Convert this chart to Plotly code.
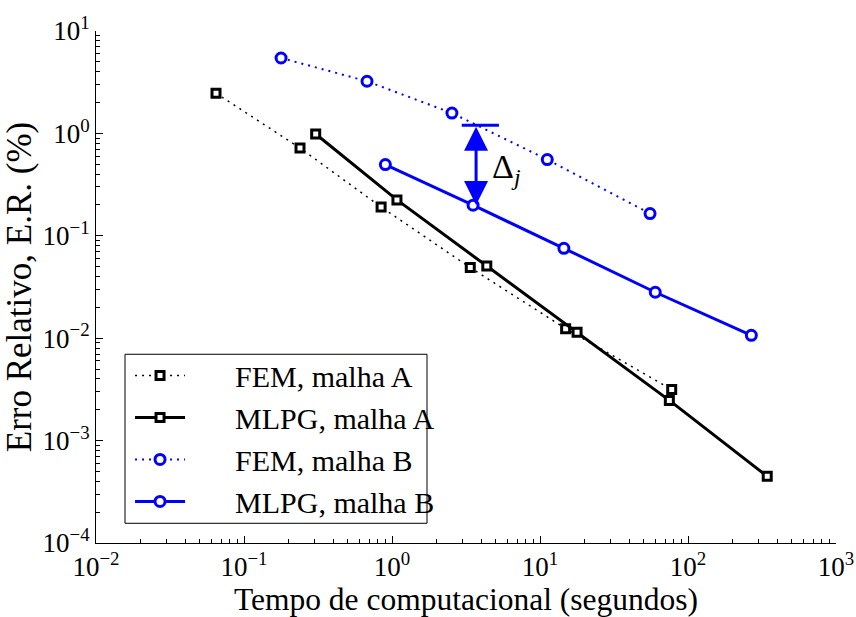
import math
import plotly.graph_objects as go

# Tempo computacional (s) e erro relativo (%) para cada método / malha
fem_a_t = [0.0647, 0.239, 0.844, 3.38, 14.9, 77.6]
fem_a_e = [2.47, 0.72, 0.191, 0.0489, 0.0124, 0.00315]

mlpg_a_t = [0.305, 1.08, 4.37, 17.8, 74.8, 343]
mlpg_a_e = [0.986, 0.224, 0.0507, 0.0114, 0.00247, 0.000448]

fem_b_t = [0.178, 0.678, 2.54, 11.2, 55.4]
fem_b_e = [5.45, 3.23, 1.58, 0.555, 0.165]

mlpg_b_t = [0.902, 3.53, 14.5, 60.1, 268]
mlpg_b_e = [0.496, 0.199, 0.0755, 0.0281, 0.01067]

series_names = ["FEM, malha A", "MLPG, malha A", "FEM, malha B", "MLPG, malha B"]

# Marcas dos eixos (décadas)
x_tick_vals = [0.01, 0.1, 1, 10, 100, 1000]
x_tick_text = ["10<sup>−2</sup>", "10<sup>−1</sup>", "10<sup>0</sup>",
               "10<sup>1</sup>", "10<sup>2</sup>", "10<sup>3</sup>"]
y_tick_vals = [0.0001, 0.001, 0.01, 0.1, 1, 10]
y_tick_text = ["10<sup>−4</sup>", "10<sup>−3</sup>", "10<sup>−2</sup>",
               "10<sup>−1</sup>", "10<sup>0</sup>", "10<sup>1</sup>"]

# Indicador Δj: barra horizontal e seta dupla até o ponto MLPG
delta_bar_t = [2.96, 5.28]
delta_bar_e = 1.2
delta_arrow_t = 3.7
delta_arrow_bottom = 0.2
delta_label_t = 4.6
delta_label_e = 0.45

FONT = "Liberation Serif"
BLUE = "#0000ff"
dots = "2px,5px"
pad = "\u00a0" * 6  # espaço entre o símbolo e o texto da legenda

fig = go.Figure()

fig.add_trace(go.Scatter(
    x=fem_a_t, y=fem_a_e, name=pad + series_names[0], mode="lines+markers",
    line=dict(color="black", width=1.5, dash=dots),
    marker=dict(symbol="square", size=8, color="white",
                line=dict(color="black", width=3)),
))
fig.add_trace(go.Scatter(
    x=mlpg_a_t, y=mlpg_a_e, name=pad + series_names[1], mode="lines+markers",
    line=dict(color="black", width=3),
    marker=dict(symbol="square", size=8, color="white",
                line=dict(color="black", width=3)),
))
fig.add_trace(go.Scatter(
    x=fem_b_t, y=fem_b_e, name=pad + series_names[2], mode="lines+markers",
    line=dict(color=BLUE, width=2, dash=dots),
    marker=dict(symbol="circle", size=10, color="white",
                line=dict(color=BLUE, width=3)),
))
fig.add_trace(go.Scatter(
    x=mlpg_b_t, y=mlpg_b_e, name=pad + series_names[3], mode="lines+markers",
    line=dict(color=BLUE, width=3),
    marker=dict(symbol="circle", size=10, color="white",
                line=dict(color=BLUE, width=3)),
))

# barra de referência do Δj
fig.add_shape(type="line", xref="x", yref="y",
              x0=delta_bar_t[0], x1=delta_bar_t[1],
              y0=delta_bar_e, y1=delta_bar_e,
              line=dict(color=BLUE, width=3))

# seta dupla vertical
fig.add_annotation(
    x=math.log10(delta_arrow_t), y=math.log10(delta_arrow_bottom),
    ax=math.log10(delta_arrow_t), ay=math.log10(delta_bar_e),
    xref="x", yref="y", axref="x", ayref="y",
    text="", showarrow=True, arrowside="end+start",
    arrowhead=2, startarrowhead=2, arrowsize=1.6, startarrowsize=1.6,
    arrowwidth=3, arrowcolor=BLUE,
)
fig.add_annotation(
    x=math.log10(delta_label_t), y=math.log10(delta_label_e),
    xref="x", yref="y", xanchor="left", yanchor="middle",
    text="Δ<sub><i>j</i></sub>", showarrow=False,
    font=dict(family=FONT, size=34, color="black"),
)

# moldura da legenda
fig.add_shape(type="rect", xref="paper", yref="paper",
              x0=0.0392, x1=0.4473, y0=0.0385, y1=0.3686,
              line=dict(color="black", width=1), fillcolor="white",
              layer="below")

axis_common = dict(
    type="log", tickmode="array", automargin=False,
    ticks="inside", ticklen=7, tickwidth=1, tickcolor="black",
    showline=True, linecolor="black", linewidth=1, mirror=False,
    showgrid=False, zeroline=False,
    tickfont=dict(family=FONT, size=27, color="black"),
    minor=dict(ticks="inside", ticklen=4, tickwidth=1, tickcolor="black",
               dtick="D1", showgrid=False),
)

fig.update_layout(
    width=856, height=617,
    margin=dict(l=96, r=20, t=31, b=74, autoexpand=False),
    paper_bgcolor="white", plot_bgcolor="white",
    font=dict(family=FONT, color="black"),
    xaxis=dict(range=[-2, 3], tickvals=x_tick_vals, ticktext=x_tick_text,
               title=dict(text="Tempo de computacional (segundos)",
                          font=dict(family=FONT, size=31.5), standoff=2),
               **axis_common),
    yaxis=dict(range=[-4, 1], tickvals=y_tick_vals, ticktext=y_tick_text,
               title=dict(text="Erro Relativo, E.R. (%)",
                          font=dict(family=FONT, size=35), standoff=0),
               **axis_common),
    legend=dict(x=0.046, y=0.378, xanchor="left", yanchor="top",
                bgcolor="rgba(0,0,0,0)", borderwidth=0,
                font=dict(family=FONT, size=30, color="black"),
                itemwidth=50, tracegroupgap=0),
    showlegend=True,
)

fig.write_html("out.html")
